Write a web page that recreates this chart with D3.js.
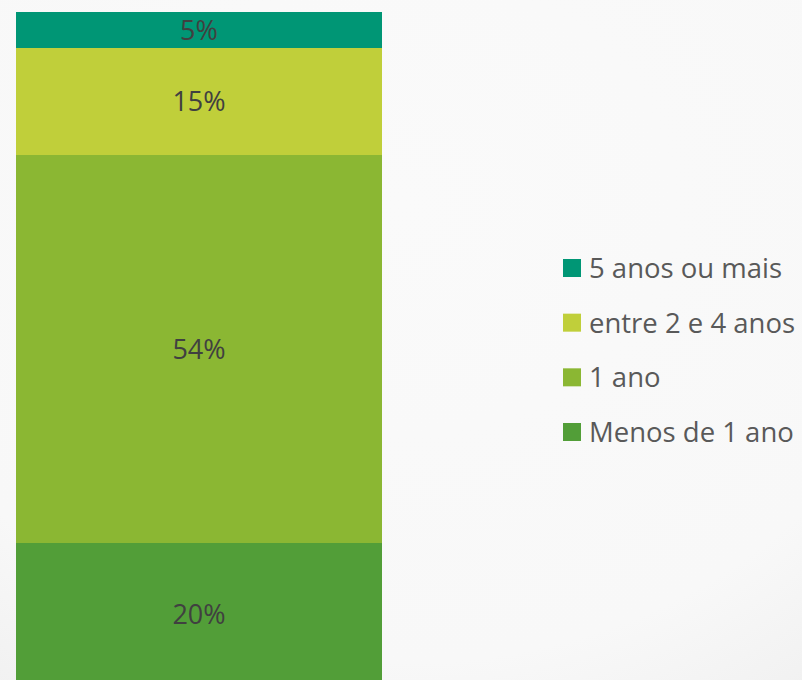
<!DOCTYPE html>
<html>
<head>
<meta charset="utf-8">
<script src="https://cdn.jsdelivr.net/npm/d3@7"></script>
<style>
  html, body { margin: 0; padding: 0; background: #f9f9f9; }
  svg { display: block; }
</style>
</head>
<body>
<div id="chart"></div>
<script>
// Tempo de permanência – one stacked column, bottom to top
const categories = ["Menos de 1 ano", "1 ano", "entre 2 e 4 anos", "5 anos ou mais"];
const values = [20, 54, 15, 5];
const colors = ["#529e38", "#8bb733", "#c0cf3a", "#009675"];
const legendOrder = ["5 anos ou mais", "entre 2 e 4 anos", "1 ano", "Menos de 1 ano"];

const W = 802, H = 680;
const svg = d3.select("#chart").append("svg").attr("width", W).attr("height", H);

// soft background with faint shading toward the lower corners
const defs = svg.append("defs");
const bg = defs.append("radialGradient").attr("id", "bg")
  .attr("cx", "50%").attr("cy", "30%").attr("r", "90%");
bg.append("stop").attr("offset", "0%").attr("stop-color", "#fafafa");
bg.append("stop").attr("offset", "75%").attr("stop-color", "#f8f8f8");
bg.append("stop").attr("offset", "100%").attr("stop-color", "#f0f0f0");
svg.append("rect").attr("width", W).attr("height", H).attr("fill", "url(#bg)");

const total = d3.sum(values);
const y = d3.scaleLinear().domain([0, total]).range([686, 12]);
const x = d3.scaleBand().domain(["all"]).range([16, 382]).padding(0);

let acc = 0;
const stack = values.map((v, i) => {
  const d = { key: categories[i], y0: acc, y1: acc + v, value: v, color: colors[i] };
  acc += v;
  return d;
});

const seg = svg.append("g").selectAll("g").data(stack).join("g");
seg.append("rect")
  .attr("x", x("all"))
  .attr("width", x.bandwidth())
  .attr("y", d => Math.round(y(d.y1)))
  .attr("height", d => Math.round(y(d.y0)) - Math.round(y(d.y1)))
  .attr("shape-rendering", "crispEdges")
  .attr("fill", d => d.color);
seg.append("text")
  .attr("x", x("all") + x.bandwidth() / 2)
  .attr("y", d => (y(d.y0) + y(d.y1)) / 2)
  .attr("dy", "0.36em")
  .attr("text-anchor", "middle")
  .attr("font-family", "'Open Sans', sans-serif")
  .attr("font-size", 27)
  .attr("fill", "#404040")
  .text(d => d.value + "%");

// legend
const color = d3.scaleOrdinal().domain(categories).range(colors);
const ly = d3.scalePoint().domain(legendOrder).range([268, 432]);
const lg = svg.append("g").selectAll("g").data(legendOrder).join("g")
  .attr("transform", d => `translate(563,${ly(d)})`);
lg.append("rect").attr("x", 0).attr("y", -9).attr("width", 18).attr("height", 18)
  .attr("fill", d => color(d));
lg.append("text").attr("x", 26).attr("y", 0).attr("dy", "0.36em")
  .attr("font-family", "'Open Sans', sans-serif")
  .attr("font-size", 27.5)
  .attr("fill", "#595959")
  .text(d => d);
</script>
</body>
</html>
